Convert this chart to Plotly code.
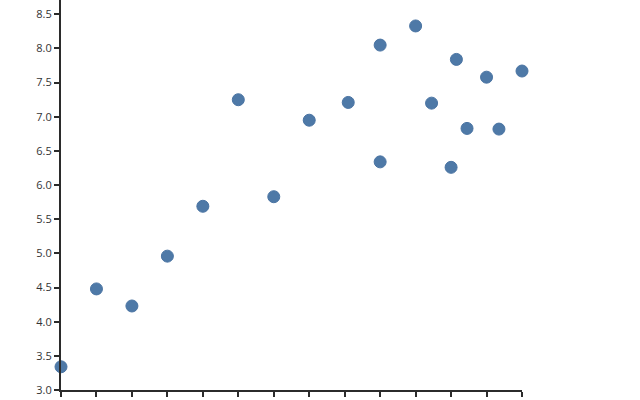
import plotly.graph_objects as go

x_values = [1, 2, 3, 4, 5, 6, 7, 8, 9.1, 10, 10, 11, 11.45, 12, 12.15, 12.45, 13, 13.35, 14]
y_values = [3.34, 4.48, 4.23, 4.96, 5.69, 7.25, 5.83, 6.95, 7.21, 8.05, 6.34, 8.33, 7.20, 6.26, 7.84, 6.83, 7.58, 6.82, 7.67]
x_ticks = list(range(1, 15))
y_ticks = [3.0, 3.5, 4.0, 4.5, 5.0, 5.5, 6.0, 6.5, 7.0, 7.5, 8.0, 8.5]

fig = go.Figure(go.Scatter(
    x=x_values, y=y_values, mode="markers",
    marker=dict(size=12, color="#4e79a7", line=dict(width=1, color="#4a74a3")),
    cliponaxis=False,
))

axis_common = dict(
    showline=True, linecolor="#2b2b2b", linewidth=2,
    ticks="outside", ticklen=5, tickwidth=1.5, tickcolor="#2b2b2b",
    showgrid=False, zeroline=False, automargin=False,
    tickfont=dict(family="Open Sans", size=11, color="#333333"),
)

fig.update_layout(
    width=640, height=400,
    margin=dict(l=61, r=118, t=0, b=10),
    plot_bgcolor="white", paper_bgcolor="white",
    showlegend=False,
    xaxis=dict(range=[1, 14], tickvals=x_ticks, ticktext=[str(v) for v in x_ticks], **axis_common),
    yaxis=dict(range=[3.0, 8.71], tickvals=y_ticks, ticktext=[f"{v:.1f}" for v in y_ticks],
               ticklabelstandoff=0, **axis_common),
)

fig.write_html(
    "out.html",
    config={"displayModeBar": False},
    post_script="document.body.style.margin='0';document.body.style.overflow='hidden';",
)
